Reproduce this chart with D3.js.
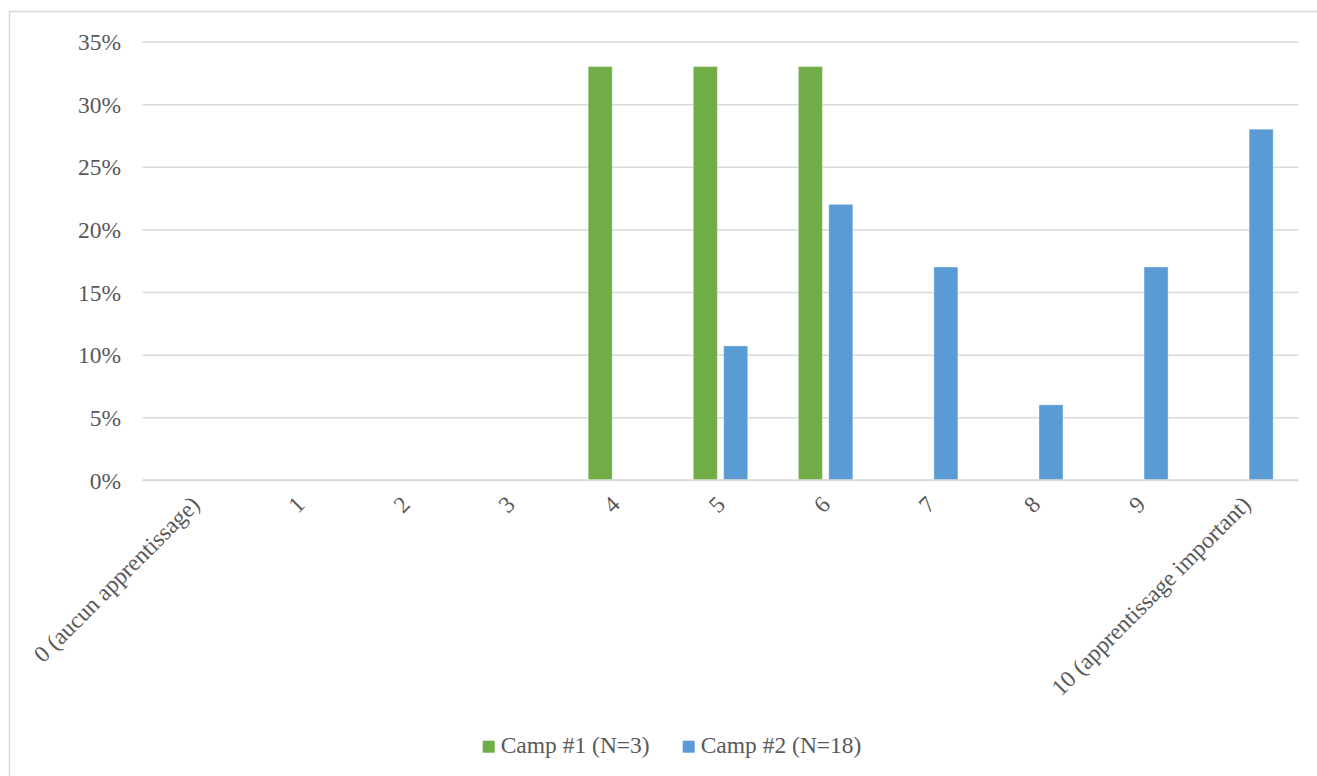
<!DOCTYPE html>
<html>
<head>
<meta charset="utf-8">
<script src="https://cdn.jsdelivr.net/npm/d3@7"></script>
<style>
  html, body { margin: 0; padding: 0; background: #ffffff; }
  svg { display: block; }
  text { fill: #595959; }
</style>
</head>
<body>
<svg id="chart" width="1317" height="776"></svg>
<script>
// Categories: learning self-rating scale 0..10
const categories = ["0 (aucun apprentissage)", "1", "2", "3", "4", "5", "6", "7", "8", "9", "10 (apprentissage important)"];
const seriesNames = ["Camp #1 (N=3)", "Camp #2 (N=18)"];
// Share of respondents per rating (fraction)
const camp1Values = [0, 0, 0, 0, 0.33, 0.33, 0.33, 0, 0, 0, 0];
const camp2Values = [0, 0, 0, 0, 0, 0.107, 0.22, 0.17, 0.06, 0.17, 0.28];
const yTicks = [0, 0.05, 0.10, 0.15, 0.20, 0.25, 0.30, 0.35];
const seriesColors = ["#70ad47", "#5b9bd5"];

const FONT = "Liberation Serif, Tinos, Times New Roman, Times, DejaVu Serif, serif";
const FONT_SIZE = "23.5px";

const svg = d3.select("#chart");
const W = 1317, H = 776;

// Outer chart frame (only left and top edges fall inside the view)
svg.append("rect")
  .attr("x", 9.5).attr("y", 11.5)
  .attr("width", W + 20).attr("height", H + 20)
  .attr("fill", "#ffffff")
  .attr("stroke", "#d9d9d9").attr("stroke-width", 1.5);

const plot = { left: 142.5, right: 1298.5, top: 41.5, bottom: 480 };

const y = d3.scaleLinear().domain([0, 0.35]).range([plot.bottom, plot.top]);

const x0 = d3.scaleBand()
  .domain(categories)
  .range([plot.left, plot.right])
  .paddingInner(0.482)
  .paddingOuter(0.241);

const x1 = d3.scaleBand()
  .domain(seriesNames)
  .range([0, x0.bandwidth()])
  .paddingInner(0.21)
  .paddingOuter(0);

// Horizontal gridlines
const yAxis = d3.axisLeft(y)
  .tickValues(yTicks)
  .tickSize(-(plot.right - plot.left))
  .tickFormat(d => Math.round(d * 100) + "%");

const gy = svg.append("g")
  .attr("transform", `translate(${plot.left},0)`)
  .call(yAxis)
  .attr("font-family", FONT)
  .attr("font-size", FONT_SIZE);
gy.select(".domain").remove();
gy.selectAll(".tick line")
  .attr("stroke", "#d9d9d9").attr("stroke-width", 1.5);
gy.selectAll(".tick text")
  .attr("x", -21.5)
  .attr("dy", "0.34em")
  .attr("fill", "#595959");

// Bars
const rows = categories.map((c, i) => ({ cat: c, values: [camp1Values[i], camp2Values[i]] }));
const groups = svg.append("g").selectAll("g")
  .data(rows)
  .join("g")
  .attr("transform", d => `translate(${x0(d.cat)},0)`);

groups.selectAll("rect")
  .data(d => d.values.map((v, k) => ({ name: seriesNames[k], value: v, k })))
  .join("rect")
  .filter(d => d.value > 0)
  .attr("x", d => x1(d.name))
  .attr("y", d => y(d.value))
  .attr("width", x1.bandwidth())
  .attr("height", d => y(0) - y(d.value))
  .attr("fill", d => seriesColors[d.k])
  .attr("stroke", "rgba(255,255,255,0.35)")
  .attr("stroke-width", 1);

// Category axis, labels slanted
const xAxis = d3.axisBottom(x0).tickSize(0);
const gx = svg.append("g")
  .attr("transform", `translate(0,${plot.bottom})`)
  .call(xAxis)
  .attr("font-family", FONT)
  .attr("font-size", FONT_SIZE);
gx.select(".domain")
  .attr("d", `M${plot.left},0H${plot.right}`)
  .attr("stroke", "#d9d9d9").attr("stroke-width", 1.5);
gx.selectAll(".tick text")
  .attr("y", 0).attr("dy", null)
  .attr("text-anchor", "end")
  .attr("transform", "translate(6,26) rotate(-45)")
  .attr("fill", "#595959");

// Legend
const legend = svg.append("g")
  .attr("font-family", FONT)
  .attr("font-size", FONT_SIZE);
const legendItems = [
  { name: seriesNames[0], color: seriesColors[0], x: 482.7 },
  { name: seriesNames[1], color: seriesColors[1], x: 682.7 }
];
legendItems.forEach(it => {
  legend.append("rect")
    .attr("x", it.x).attr("y", 740.7)
    .attr("width", 12).attr("height", 12)
    .attr("fill", it.color);
  legend.append("text")
    .attr("x", it.x + 18).attr("y", 752.5)
    .attr("fill", "#595959")
    .text(it.name);
});
</script>
</body>
</html>
